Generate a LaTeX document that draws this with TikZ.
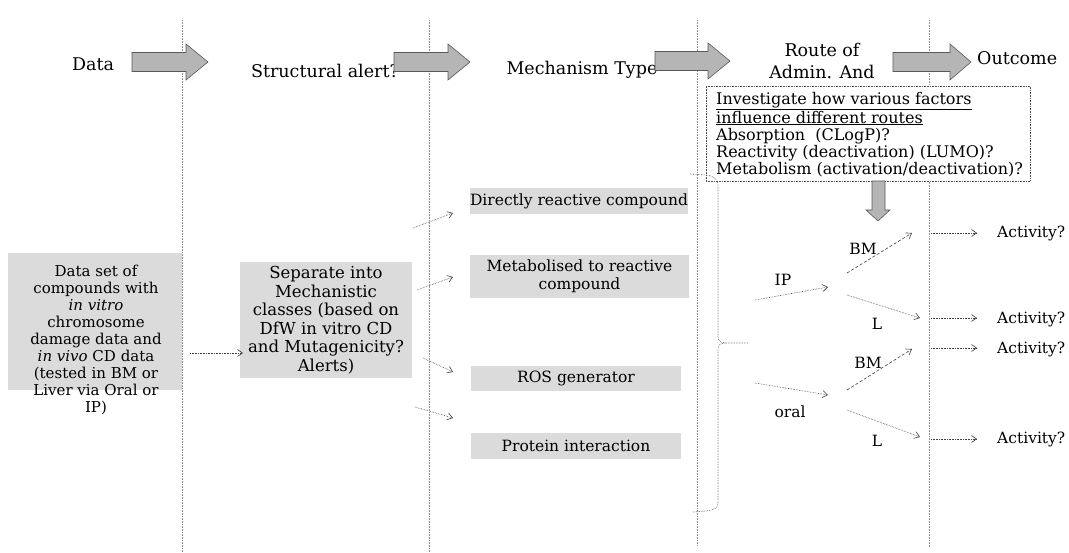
\documentclass[tikz,border=0pt]{standalone}
\usepackage{fontspec}
\setmainfont{DejaVu Serif}
\usetikzlibrary{arrows.meta}
\newcommand\blockarr[4]{%
  \draw[bigarrow] ({#1},{#4-9.5}) -- ({#2},{#4-9.5}) -- ({#2},{#4-18}) -- ({#3},{#4}) -- ({#2},{#4+18}) -- ({#2},{#4+9.5}) -- ({#1},{#4+9.5}) -- cycle;}
\begin{document}
\begin{tikzpicture}[x=1pt,y=-1pt,
  colline/.style={gray!85, densely dotted, line width=0.6pt},
  bracketline/.style={black!70, densely dotted, line width=0.6pt},
  fillbox/.style={fill=gray!28, draw=none, inner sep=0pt},
  conn/.style={densely dotted, black!75, line width=0.6pt, -{Straight Barb[length=5pt,width=7pt]}},
  dconn/.style={dash pattern=on 3pt off 2pt, black!75, line width=0.6pt, -{Straight Barb[length=5pt,width=7pt]}},
  head/.style={font=\fontsize{17.5}{22}\selectfont, inner sep=0pt},
  body/.style={font=\fontsize{15.5}{18}\selectfont, inner sep=0pt},
  bigarrow/.style={fill=gray!58, draw=black!65, line width=0.6pt},
]
\useasboundingbox[fill=white] (0,0) rectangle (1069,553);

% column lines
\coordinate (l1t) at (182,20); \coordinate (l1b) at (182,553);
\coordinate (l2t) at (429,20); \coordinate (l2b) at (429,553);
\coordinate (l3t) at (697,20); \coordinate (l3b) at (697,546);
\coordinate (l4t) at (929,20); \coordinate (l4b) at (929,548);
\draw[colline] (l1t) -- (l1b);
\draw[colline] (l2t) -- (l2b);
\draw[colline] (l3t) -- (l3b);
\draw[colline] (l4t) -- (l4b);

% headers
\node[head] (hData) at (93,64) {Data};
\node[head] (hStruct) at (325,71) {Structural alert?};
\node[head] (hMech) at (582,70) {Mechanism Type};
\node[head, align=center] (hRoute) at (822,61) {Route of\\Admin. And};
\node[head, anchor=west] (hOut) at (977,58) {Outcome};

\blockarr{132}{186}{208}{62}
\blockarr{394}{448}{470}{62}
\blockarr{655}{708}{730}{61}
\blockarr{893}{950}{971}{62}

% data box
\node[fillbox, minimum width=174pt, minimum height=137pt] (dataBg) at (95,321.5) {};
\node[font=\fontsize{15}{17}\selectfont, align=center, inner sep=0pt] (data) at (96,340) {Data set of\\compounds with\\\textit{in vitro}\\chromosome\\damage data and\\\textit{in vivo} CD data\\(tested in BM or\\Liver via Oral or\\IP)};

% separate box
\node[fillbox, minimum width=172pt, minimum height=116pt, align=center, font=\fontsize{16.5}{18.5}\selectfont] (sep) at (326,320) {Separate into\\Mechanistic\\classes (based on\\DfW in vitro CD\\and Mutagenicity?\\Alerts)};

\coordinate (d1) at (190,353); \coordinate (d2) at (243,353);
\draw[conn] (d1) -- (d2);

% mechanism boxes
\node[fillbox, body, minimum width=218pt, minimum height=26pt] (m1) at (579,201) {Directly reactive compound};
\node[fillbox, body, align=center, minimum width=219pt, minimum height=43pt] (m2) at (579.5,276.5) {Metabolised to reactive\\compound};
\node[fillbox, body, minimum width=210pt, minimum height=25pt] (m3) at (576,378.5) {ROS generator};
\node[fillbox, body, minimum width=210pt, minimum height=26pt] (m4) at (576,446) {Protein interaction};

\coordinate (a1s) at (413,228); \coordinate (a1e) at (453,213);
\coordinate (a2s) at (417,290); \coordinate (a2e) at (453,277);
\coordinate (a3s) at (423,358); \coordinate (a3e) at (453,372);
\coordinate (a4s) at (415,407); \coordinate (a4e) at (453,418);
\draw[conn] (a1s) -- (a1e);
\draw[conn] (a2s) -- (a2e);
\draw[conn] (a3s) -- (a3e);
\draw[conn] (a4s) -- (a4e);

% info box
\node[draw=black!70, densely dotted, line width=0.6pt, fill=white, minimum width=324pt, minimum height=95pt, inner sep=0pt] (info) at (868,133.5) {};
\node[font=\fontsize{16}{17}\selectfont, align=left, anchor=north west, inner sep=0pt] (infot) at (716,92) {\underline{Investigate how various factors}\\\underline{influence different routes}\\Absorption\ \ (CLogP)?\\Reactivity (deactivation) (LUMO)?\\Metabolism (activation/deactivation)?};

% down arrow
\draw[bigarrow] (872,181) -- (885,181) -- (885,210) -- (890,210) -- (878,221) -- (866,210) -- (872,210) -- cycle;

% bracket
\coordinate (bt) at (690,174);
\coordinate (bm) at (748,343);
\coordinate (bb) at (693,512);
\draw[bracketline] (bt) -- (706,175) .. controls (714,176) and (718,179) .. (718,187) -- (718,336) .. controls (718,341) and (720,343) .. (726,343) -- (bm);
\draw[bracketline] (726,343) .. controls (720,343) and (718,345) .. (718,350) -- (718,503) .. controls (718,508) and (714,510) .. (706,511) -- (bb);

% routes
\node[body] (ip) at (783,280) {IP};
\node[body] (oral) at (790,412) {oral};
\node[body] (bm1) at (863,249) {BM};
\node[body] (l1) at (877,324) {L};
\node[body] (bm2) at (868,363) {BM};
\node[body] (l2) at (877,441) {L};

\coordinate (ips) at (755,300); \coordinate (ipe) at (828,287);
\coordinate (ors) at (755,383); \coordinate (ore) at (828,395);
\draw[conn] (ips) -- (ipe);
\draw[conn] (ors) -- (ore);

\coordinate (b1s) at (847,273); \coordinate (b1e) at (912,233);
\coordinate (c1s) at (847,295); \coordinate (c1e) at (920,318);
\coordinate (b2s) at (847,390); \coordinate (b2e) at (912,349);
\coordinate (c2s) at (847,410); \coordinate (c2e) at (920,437);
\draw[dconn] (b1s) -- (b1e);
\draw[conn] (c1s) -- (c1e);
\draw[dconn] (b2s) -- (b2e);
\draw[conn] (c2s) -- (c2e);

% outcomes
\node[body, anchor=west] (act1) at (997,233) {Activity?};
\node[body, anchor=west] (act2) at (997,319) {Activity?};
\node[body, anchor=west] (act3) at (997,349) {Activity?};
\node[body, anchor=west] (act4) at (997,439) {Activity?};
\coordinate (o1s) at (931,233); \coordinate (o1e) at (977,233);
\coordinate (o2s) at (931,318); \coordinate (o2e) at (977,318);
\coordinate (o3s) at (931,348); \coordinate (o3e) at (977,348);
\coordinate (o4s) at (931,439); \coordinate (o4e) at (977,439);
\draw[conn] (o1s) -- (o1e);
\draw[conn] (o2s) -- (o2e);
\draw[conn] (o3s) -- (o3e);
\draw[conn] (o4s) -- (o4e);
\end{tikzpicture}
\end{document}
